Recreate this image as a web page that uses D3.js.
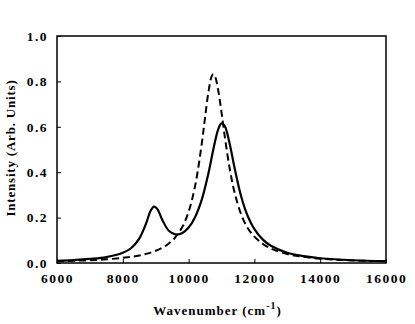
<!DOCTYPE html>
<html>
<head>
<meta charset="utf-8">
<script src="https://cdn.jsdelivr.net/npm/d3@7"></script>
<style>
  body { margin: 0; background: #fff; }
  svg text { font-family: "Liberation Serif", "Times New Roman", serif; font-weight: bold; fill: #000; }
</style>
</head>
<body>
<svg id="chart"></svg>
<script>
var waveSolid = [6000, 6500, 7000, 7500, 8000, 8250, 8500, 8700, 8850, 8950, 9050, 9200, 9400, 9600, 9800,
    10000, 10200, 10400, 10600, 10750, 10900, 11000, 11100, 11250, 11400, 11600, 11800, 12000, 12250, 12500,
    13000, 13500, 14000, 15000, 16000];
var solidValues = [0.010, 0.013, 0.018, 0.026, 0.045, 0.065, 0.107, 0.171, 0.231, 0.248, 0.238, 0.190, 0.142, 0.126, 0.131,
    0.156, 0.203, 0.279, 0.393, 0.499, 0.589, 0.615, 0.603, 0.524, 0.417, 0.292, 0.206, 0.149, 0.104, 0.076,
    0.045, 0.030, 0.021, 0.012, 0.008];

var waveDashed = [6000, 6500, 7000, 7500, 8000, 8250, 8500, 8700, 8950, 9200, 9400, 9600, 9800,
    10000, 10200, 10400, 10500, 10600, 10700, 10750, 10800, 10900, 11000, 11100, 11250, 11400, 11600, 11800,
    12000, 12250, 12500, 13000, 13500, 14000, 15000, 16000];
var dashedValues = [0.008, 0.010, 0.012, 0.016, 0.023, 0.027, 0.033, 0.040, 0.051, 0.067, 0.086, 0.114, 0.156,
    0.226, 0.341, 0.526, 0.641, 0.750, 0.822, 0.832, 0.824, 0.761, 0.664, 0.557, 0.415, 0.309, 0.213, 0.153,
    0.116, 0.085, 0.064, 0.039, 0.027, 0.019, 0.011, 0.008];

var xTicks = [6000, 8000, 10000, 12000, 14000, 16000];
var yTicks = [0, 0.2, 0.4, 0.6, 0.8, 1.0];

var W = 415, H = 324;
var margin = {top: 36, right: 29, bottom: 61, left: 57};
var width = W - margin.left - margin.right;
var height = H - margin.top - margin.bottom;

var svg = d3.select("#chart").attr("width", W).attr("height", H);
var g = svg.append("g").attr("transform", "translate(" + margin.left + "," + margin.top + ")");

var x = d3.scaleLinear().domain([6000, 16000]).range([0, width]);
var y = d3.scaleLinear().domain([0, 1]).range([height, 0]);

// frame
g.append("rect")
    .attr("width", width).attr("height", height)
    .attr("fill", "none").attr("stroke", "#000").attr("stroke-width", 1.5);

var xAxis = g.append("g")
    .attr("transform", "translate(0," + height + ")")
    .call(d3.axisBottom(x).tickValues(xTicks).tickFormat(d3.format("d")).tickSizeInner(-4).tickSizeOuter(0).tickPadding(10));
var yAxis = g.append("g")
    .call(d3.axisLeft(y).tickValues(yTicks).tickFormat(d3.format(".1f")).tickSizeInner(-4).tickSizeOuter(0).tickPadding(9));

[xAxis, yAxis].forEach(function (ax) {
    ax.select(".domain").remove();
    ax.selectAll("line").attr("stroke", "#000").attr("stroke-width", 1);
    ax.selectAll("text")
        .attr("font-family", null)
        .style("font-size", "13.5px")
        .style("letter-spacing", "1.5px");
});

var line = d3.line()
    .x(function (d) { return x(d[0]); })
    .y(function (d) { return y(d[1]); })
    .curve(d3.curveCatmullRom);

g.append("path")
    .datum(d3.zip(waveDashed, dashedValues))
    .attr("d", line)
    .attr("fill", "none")
    .attr("stroke", "#000")
    .attr("stroke-width", 2)
    .attr("stroke-dasharray", "7,4");

g.append("path")
    .datum(d3.zip(waveSolid, solidValues))
    .attr("d", line)
    .attr("fill", "none")
    .attr("stroke", "#000")
    .attr("stroke-width", 2.2);

// axis titles
var xt = svg.append("text")
    .attr("x", margin.left + width / 2 - 4)
    .attr("y", 315)
    .attr("text-anchor", "middle")
    .style("font-size", "13px")
    .style("letter-spacing", "1px");
xt.append("tspan").text("Wavenumber (cm");
xt.append("tspan").attr("dy", -6).style("font-size", "10px").text("-1");
xt.append("tspan").attr("dy", 6).text(")");

svg.append("text")
    .attr("transform", "translate(15," + 148 + ") rotate(-90)")
    .attr("text-anchor", "middle")
    .style("font-size", "13px")
    .style("letter-spacing", "0.8px")
    .text("Intensity (Arb. Units)");
</script>
</body>
</html>
